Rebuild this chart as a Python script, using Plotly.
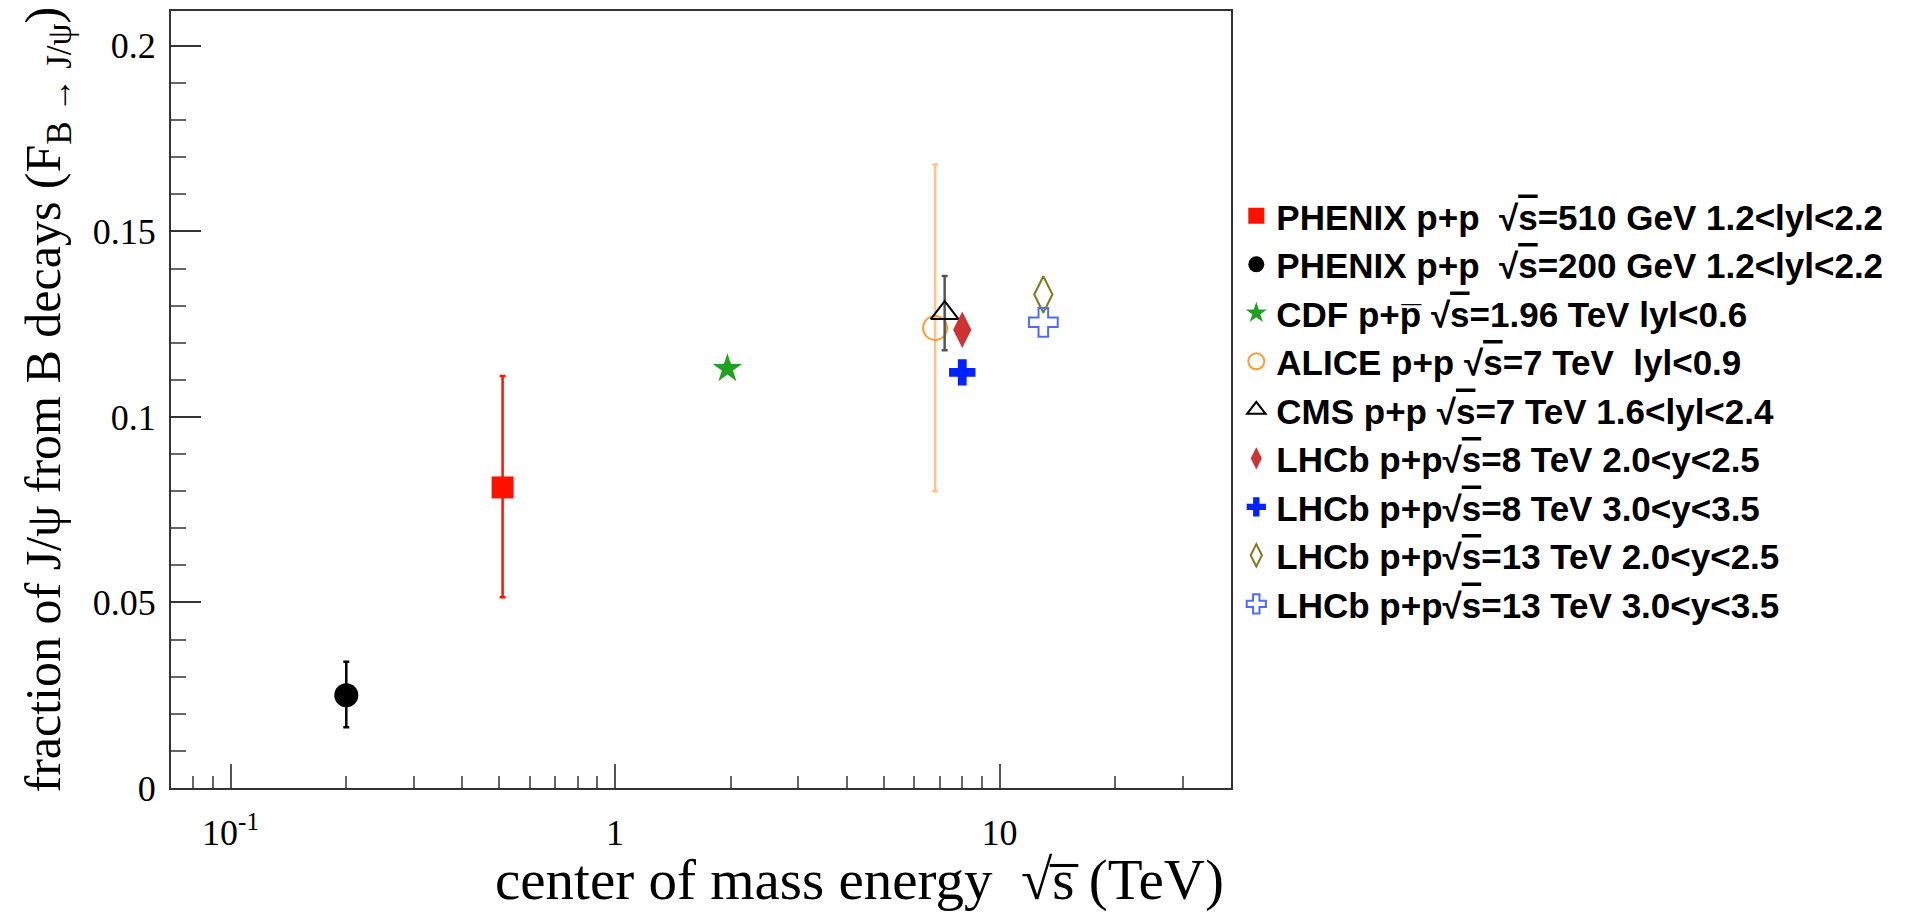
import plotly.graph_objects as go
import math

# ---- data ----
OV = "\u221a<span style='text-decoration:overline'>s</span>"
names = [
    "PHENIX\u00a0p+p\u00a0\u00a0" + OV + "=510 GeV 1.2&lt;lyl&lt;2.2",
    "PHENIX\u00a0p+p\u00a0\u00a0" + OV + "=200 GeV 1.2&lt;lyl&lt;2.2",
    "CDF p+p\u0305 " + OV + "=1.96 TeV lyl&lt;0.6",
    "ALICE p+p " + OV + "=7 TeV\u00a0\u00a0lyl&lt;0.9",
    "CMS p+p " + OV + "=7 TeV 1.6&lt;lyl&lt;2.4",
    "LHCb p+p" + OV + "=8 TeV 2.0&lt;y&lt;2.5",
    "LHCb p+p" + OV + "=8 TeV 3.0&lt;y&lt;3.5",
    "LHCb p+p" + OV + "=13 TeV 2.0&lt;y&lt;2.5",
    "LHCb p+p" + OV + "=13 TeV 3.0&lt;y&lt;3.5",
]
energy_tev = [0.51, 0.2, 1.96, 6.8, 7.2, 8.0, 8.0, 13.0, 13.0]
fraction = [0.081, 0.025, 0.113, 0.124, 0.128, 0.1235, 0.112, 0.133, 0.1255]
err_up = [0.030, 0.009, 0.0015, 0.044, 0.010, 0.0, 0.0, 0.0, 0.0]
err_down = [0.0296, 0.0086, 0.0, 0.044, 0.010, 0.0, 0.0, 0.0, 0.0]

symbols = ["square", "circle", "star", "circle-open", "triangle-up-open",
           "diamond-tall", "cross", "diamond-tall-open", "cross-open"]
sizes = [22, 24, 22, 24, 24, 26, 22, 26, 24]
colors = ["#ff1100", "#000000", "#22a022", "#ff9933", "#000000",
          "#cc3333", "#0022ff", "#7a7a1e", "#4d6bff"]
err_colors = ["#ff1100", "#000000", "#22a022", "#ffc48c", "#555555",
              "#cc3333", "#0022ff", "#7a7a1e", "#4d6bff"]

x_tickvals = [0.1, 1, 10]
x_ticktext = ["10<sup>-1</sup>", "1", "10"]
x_minor_ticks = [0.08, 0.09, 0.2, 0.3, 0.4, 0.5, 0.6, 0.7, 0.8, 0.9,
                 2, 3, 4, 5, 6, 7, 8, 9, 20, 30]
y_tickvals = [0, 0.05, 0.1, 0.15, 0.2]
y_ticktext = ["0", "0.05", "0.1", "0.15", "0.2"]

fig = go.Figure()
for i in range(len(names)):
    open_sym = symbols[i].endswith("open")
    fig.add_trace(go.Scatter(
        x=[energy_tev[i]], y=[fraction[i]], mode="markers", name=names[i],
        legendgroup=str(i),
        marker=dict(symbol=symbols[i], size=sizes[i], color=colors[i],
                    line=dict(width=2 if open_sym else 0, color=colors[i])),
        error_y=dict(type="data", symmetric=False, array=[err_up[i]],
                     arrayminus=[err_down[i]], color=err_colors[i],
                     thickness=2.5, width=3,
                     visible=(err_up[i] > 0 or err_down[i] > 0)),
    ))

serif = "Liberation Serif, Times New Roman, serif"
fig.update_layout(
    width=1907, height=912,
    margin=dict(l=171, r=676, t=9, b=124),
    paper_bgcolor="white", plot_bgcolor="white",
    showlegend=True,
    legend=dict(x=1.005, xanchor="left", y=0.774, yanchor="top",
                font=dict(family="Liberation Sans, Arial, sans-serif", size=35, color="black",
                          weight="bold"),
                tracegroupgap=0, itemsizing="trace", bgcolor="rgba(0,0,0,0)",
                traceorder="grouped"),
    xaxis=dict(type="log", range=[math.log10(0.07), math.log10(40)],
               tickvals=x_tickvals, ticktext=x_ticktext,
               ticks="inside", ticklen=24, tickwidth=2, tickcolor="#555",
               minor=dict(ticks="inside", ticklen=12, tickwidth=2, tickcolor="#666",
                          tickvals=x_minor_ticks, showgrid=False),
               showline=True, linecolor="#333", linewidth=2, mirror=True,
               showgrid=False, zeroline=False,
               tickfont=dict(family=serif, size=36, color="black"),
               ticklabelstandoff=12),
    yaxis=dict(range=[0, 0.2094],
               tickvals=y_tickvals, ticktext=y_ticktext,
               ticks="inside", ticklen=30, tickwidth=2, tickcolor="#333",
               minor=dict(ticks="inside", ticklen=15, tickwidth=2, tickcolor="#666",
                          dtick=0.01, tick0=0, showgrid=False),
               showline=True, linecolor="#333", linewidth=2, mirror=True,
               showgrid=False, zeroline=False,
               tickfont=dict(family=serif, size=36, color="black"),
               ticklabelstandoff=6),
    annotations=[
        dict(text="center of mass energy \u00a0\u221as\u0305 (TeV)",
             xref="paper", yref="paper", x=0.995, y=-0.119, xanchor="right", yanchor="middle",
             showarrow=False, font=dict(family=serif, size=57, color="black")),
        dict(text="fraction of J/\u03c8 from B decays (F<sub>B \u2192 J/\u03c8</sub>)",
             xref="paper", yref="paper", x=-0.117, y=0.5, xanchor="center", yanchor="middle",
             textangle=-90, showarrow=False, font=dict(family=serif, size=50, color="black")),
    ],
)

fig.write_html("out.html")
